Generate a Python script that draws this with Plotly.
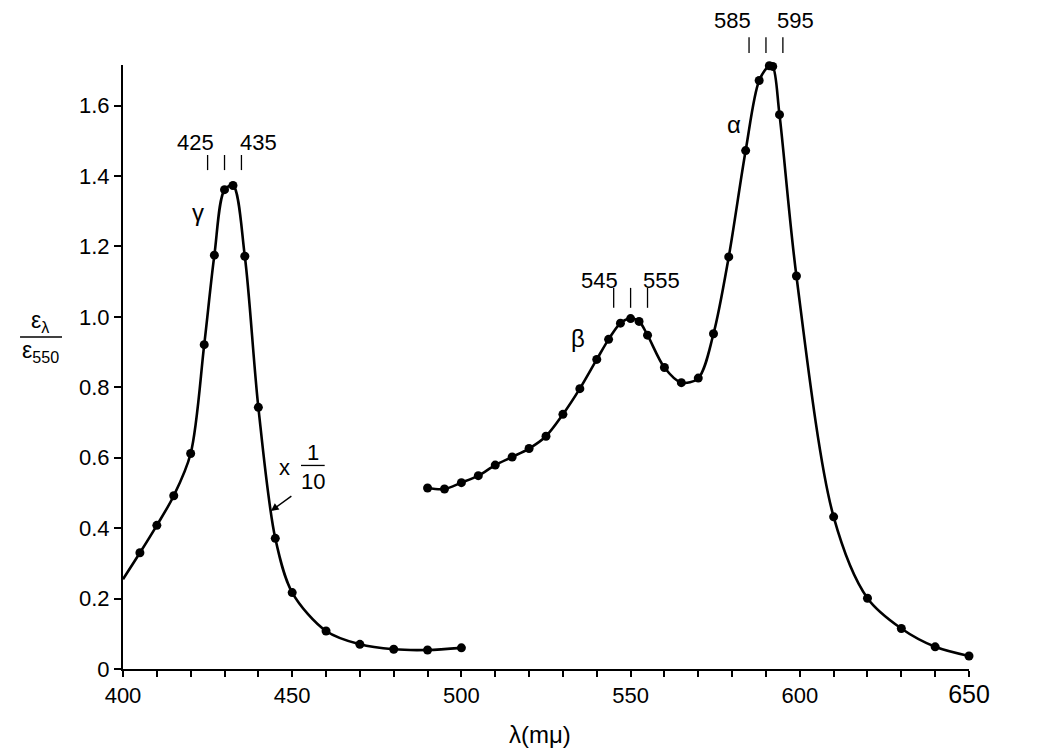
import plotly.graph_objects as go

# gamma band (soret), scaled x 1/10 -- first value is where the curve meets the axis
gamma_nm = [400, 405, 410, 415, 420, 424, 427, 430, 432.5, 436, 440, 445, 450, 460, 470, 480, 490, 500]
gamma_eps = [0.255, 0.33, 0.408, 0.492, 0.612, 0.921, 1.175, 1.361, 1.373, 1.172, 0.743, 0.371, 0.217,
             0.108, 0.070, 0.056, 0.054, 0.060]

# beta + alpha bands
ab_nm = [490, 495, 500, 505, 510, 515, 520, 525, 530, 535, 540, 543.5, 547, 550, 552.5, 555, 560, 565,
         570, 574.5, 579, 584, 588, 591, 592, 594, 599, 610, 620, 630, 640, 650]
ab_eps = [0.514, 0.511, 0.529, 0.549, 0.579, 0.602, 0.626, 0.661, 0.723, 0.796, 0.879, 0.936, 0.982,
          0.995, 0.987, 0.948, 0.856, 0.813, 0.826, 0.952, 1.170, 1.472, 1.671, 1.713, 1.711, 1.574,
          1.116, 0.432, 0.201, 0.115, 0.063, 0.037]

x_ticks = [400, 450, 500, 550, 600, 650]
x_ticktext = ["400", "450", "500", "550", "600", "<span style='font-size:25px'>650</span>"]
y_ticks = [0, 0.2, 0.4, 0.6, 0.8, 1.0, 1.2, 1.4, 1.6]
y_ticktext = ["0", "0.2", "0.4", "0.6", "0.8", "1.0", "1.2", "1.4", "1.6"]

# band labels: (letter, x, y) and the little wavelength marks above each maximum
bands = [("γ", 422.2, 0.755), ("β", 534.4, 0.548), ("α", 580.5, 0.901)]
peak_marks = [
    # (marks, left label, right label, label x's, mark y0, mark y1, text y)
    ([425, 430, 435], "425", "435", (421.3, 439.9), 0.826, 0.851, 0.8725),
    ([545, 550, 555], "545", "555", (540.9, 559.2), 0.598, 0.631, 0.644),
    ([585, 590, 595], "585", "595", (580.2, 598.8), 1.020, 1.046, 1.0745),
]

FONT = "Liberation Sans, Arial, sans-serif"
BLACK = "black"


def label(x, y, text, size=21, xref="x"):
    return dict(x=x, y=y, xref=xref, yref="paper", text=text, showarrow=False,
                xanchor="center", yanchor="middle",
                font=dict(size=size, color=BLACK, family=FONT))


fig = go.Figure()

fig.add_trace(go.Scatter(x=gamma_nm, y=gamma_eps, mode="lines",
                         line=dict(color=BLACK, width=2.6, shape="spline", smoothing=0.9),
                         cliponaxis=False, showlegend=False, hoverinfo="skip"))
fig.add_trace(go.Scatter(x=gamma_nm[1:], y=gamma_eps[1:], mode="markers",
                         marker=dict(color=BLACK, size=9), cliponaxis=False, showlegend=False))
fig.add_trace(go.Scatter(x=ab_nm, y=ab_eps, mode="lines+markers",
                         line=dict(color=BLACK, width=2.6, shape="spline", smoothing=0.9),
                         marker=dict(color=BLACK, size=9), cliponaxis=False, showlegend=False))

annotations = []
shapes = []
for letter, x, y in bands:
    annotations.append(label(x, y, letter, 24))
for marks, lo, hi, (xl, xh), y0, y1, ty in peak_marks:
    for m in marks:
        shapes.append(dict(type="line", xref="x", yref="paper", x0=m, x1=m, y0=y0, y1=y1,
                           line=dict(color=BLACK, width=1.3)))
    annotations.append(label(xl, ty, lo, 22))
    annotations.append(label(xh, ty, hi, 22))

# "x 1/10" note with arrow pointing at the gamma curve
annotations += [
    label(447.6, 0.334, "x", 22),
    label(456.1, 0.359, "1", 22),
    label(456.1, 0.311, "10", 22),
    dict(x=443.7, y=0.2616, xref="x", yref="paper", text="", showarrow=True,
         ax=22, ay=-16, arrowhead=2, arrowsize=1.1, arrowwidth=1.4, arrowcolor=BLACK),
]
shapes.append(dict(type="line", xref="x", yref="paper", x0=452.6, x1=459.6, y0=0.337, y1=0.337,
                   line=dict(color=BLACK, width=1.3)))

# axis titles
annotations += [
    label(0.493, -0.109, "λ(mμ)", 24, xref="paper"),
    label(-0.098, 0.575, "ε<sub>λ</sub>", 23, xref="paper"),
    label(-0.098, 0.525, "ε<sub>550</sub>", 23, xref="paper"),
]
shapes.append(dict(type="line", xref="paper", yref="paper", x0=-0.1217, x1=-0.0721, y0=0.5497, y1=0.5497,
                   line=dict(color=BLACK, width=1.3)))

# the page body adds an 8px offset, margins are trimmed to compensate
fig.update_layout(
    width=1050, height=754,
    margin=dict(l=115, r=89, t=57, b=93),
    paper_bgcolor="white", plot_bgcolor="white",
    font=dict(family=FONT, size=21, color=BLACK),
    annotations=annotations, shapes=shapes,
    xaxis=dict(range=[400, 650], tickvals=x_ticks, ticktext=x_ticktext,
               showline=True, linecolor=BLACK, linewidth=2, showgrid=False, zeroline=False,
               ticks="outside", ticklen=6, tickwidth=1.5, tickcolor=BLACK,
               minor=dict(dtick=10, ticks="outside", ticklen=6, tickwidth=1.5, tickcolor=BLACK),
               tickfont=dict(size=22, family=FONT)),
    yaxis=dict(range=[0, 1.715], tickvals=y_ticks, ticktext=y_ticktext,
               showline=True, linecolor=BLACK, linewidth=2, showgrid=False, zeroline=False,
               ticks="outside", ticklen=7, tickwidth=1.5, tickcolor=BLACK,
               tickfont=dict(size=22, family=FONT)),
)

fig.write_html("out.html")
